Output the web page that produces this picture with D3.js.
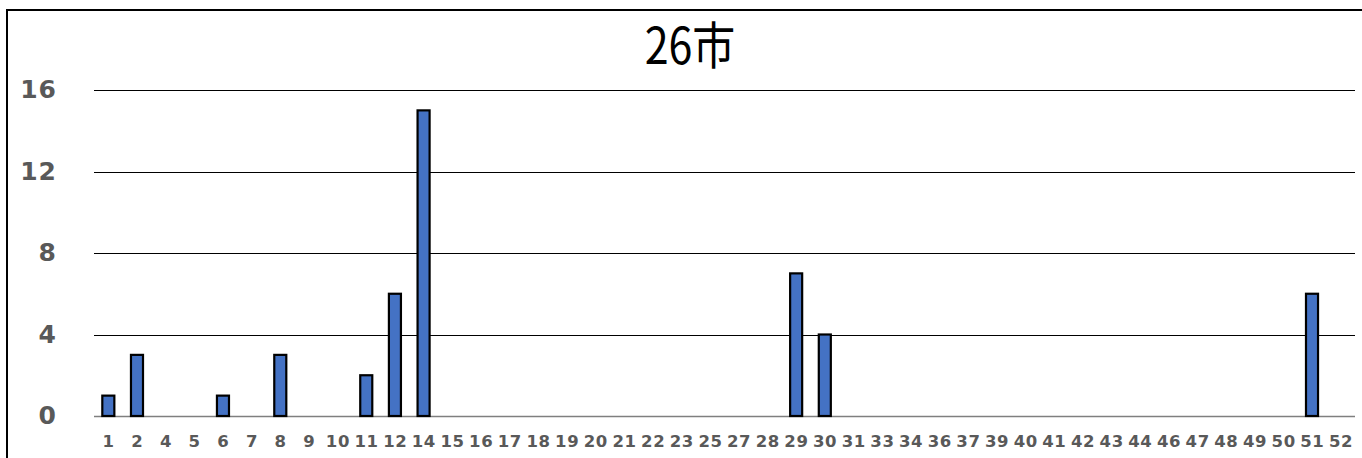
<!DOCTYPE html>
<html>
<head>
<meta charset="utf-8">
<script src="https://cdn.jsdelivr.net/npm/d3@7"></script>
<style>
  body { margin: 0; background: #fff; }
  svg { display: block; }
</style>
</head>
<body>
<svg id="chart"></svg>
<script>
// data
const title = "26市";
const categories = ["1","2","4","5","6","7","8","9","10","11","12","14","15","16","17","18","19","20","21","22","23","25","27","28","29","30","31","33","34","36","37","39","40","41","42","43","44","46","47","48","49","50","51","52"];
const values = [1,3,0,0,1,0,3,0,0,2,6,15,0,0,0,0,0,0,0,0,0,0,0,0,7,4,0,0,0,0,0,0,0,0,0,0,0,0,0,0,0,0,6,0];
const yTicks = [0, 4, 8, 12, 16];

const W = 1362, H = 458;
const svg = d3.select("#chart").attr("width", W).attr("height", H);

// outer frame (cropped on right and bottom)
svg.append("rect")
    .attr("x", 7).attr("y", 10)
    .attr("width", 1400).attr("height", 500)
    .attr("fill", "#fff").attr("stroke", "#000").attr("stroke-width", 2);

const plot = {left: 94, right: 1355, top: 90, bottom: 416};

const x = d3.scaleBand()
    .domain(categories)
    .range([plot.left, plot.right])
    .paddingInner(0.58).paddingOuter(0.29);

const y = d3.scaleLinear()
    .domain([0, 16])
    .range([plot.bottom, plot.top]);

// gridlines, snapped to whole pixels so they stay crisp
svg.append("g")
  .selectAll("line")
  .data(yTicks)
  .join("line")
    .attr("x1", plot.left).attr("x2", plot.right)
    .attr("y1", d => Math.round(y(d)) + 0.5).attr("y2", d => Math.round(y(d)) + 0.5)
    .attr("stroke", d => d === 0 ? "#7f7f7f" : "#000")
    .attr("stroke-width", d => d === 0 ? 1.5 : 1);

// y labels
svg.append("g")
  .selectAll("text")
  .data(yTicks)
  .join("text")
    .attr("x", 57)
    .attr("y", d => y(d) - 1)
    .attr("dy", "0.36em")
    .attr("text-anchor", "end")
    .attr("font-family", "DejaVu Sans, Verdana, sans-serif")
    .attr("font-weight", "bold")
    .attr("font-size", 25)
    .attr("letter-spacing", 1)
    .attr("fill", "#595959")
    .text(d => d);

// x labels
svg.append("g")
  .selectAll("text")
  .data(categories)
  .join("text")
    .attr("x", d => x(d) + x.bandwidth() / 2 + 0.3)
    .attr("y", 441)
    .attr("dy", "0.36em")
    .attr("text-anchor", "middle")
    .attr("font-family", "DejaVu Sans, Verdana, sans-serif")
    .attr("font-weight", "bold")
    .attr("font-size", 16.5)
    .attr("letter-spacing", 0.6)
    .attr("fill", "#595959")
    .text(d => d);

// bars
svg.append("g")
  .selectAll("rect")
  .data(categories.map((c, i) => ({cat: c, v: values[i]})).filter(d => d.v > 0))
  .join("rect")
    .attr("x", d => x(d.cat))
    .attr("y", d => y(d.v))
    .attr("width", x.bandwidth())
    .attr("height", d => y(0) - y(d.v))
    .attr("fill", "#4472c4")
    .attr("stroke", "#000")
    .attr("stroke-width", 2.2);

// title, condensed
svg.append("text")
    .attr("transform", "translate(690,64) scale(0.86,1)")
    .attr("text-anchor", "middle")
    .attr("font-family", "Noto Sans CJK JP, Noto Sans, sans-serif")
    .attr("font-size", 50)
    .attr("fill", "#000")
    .text(title);
</script>
</body>
</html>
